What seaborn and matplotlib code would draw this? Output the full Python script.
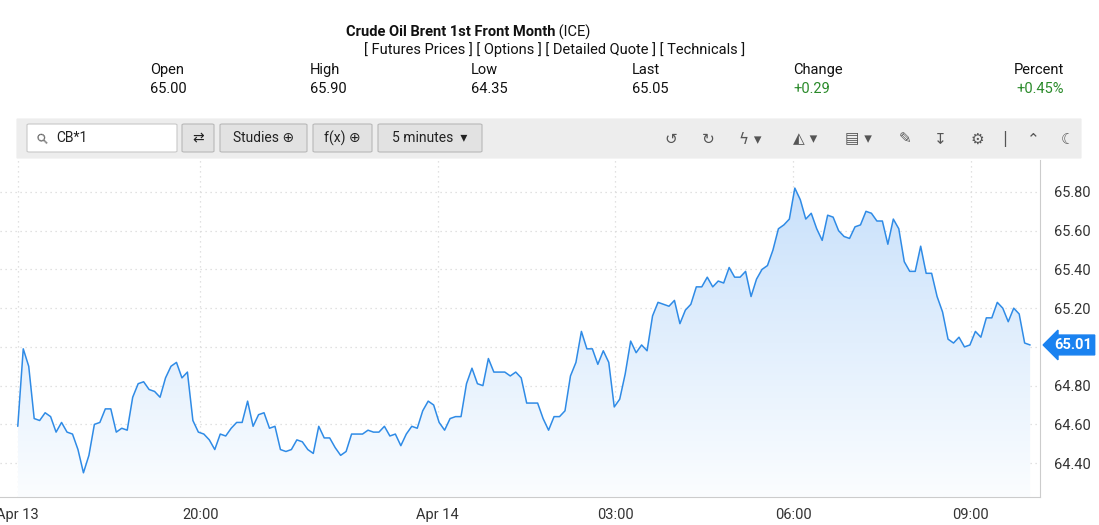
import numpy as np
import pandas as pd
import matplotlib
matplotlib.use("Agg")
import matplotlib.pyplot as plt
import matplotlib.dates as mdates
from matplotlib.patches import FancyBboxPatch, Polygon
import seaborn as sns

# Daten: 5-Minuten-Kurs
prices = [
    64.59, 64.99, 64.90, 64.63, 64.62, 64.66, 64.64, 64.56, 64.61, 64.56,
    64.55, 64.47, 64.35, 64.44, 64.60, 64.61, 64.68, 64.68, 64.56, 64.58,
    64.57, 64.74, 64.81, 64.82, 64.78, 64.77, 64.74, 64.84, 64.90, 64.92,
    64.84, 64.87, 64.62, 64.56, 64.55, 64.52, 64.47, 64.55, 64.54, 64.58,
    64.61, 64.61, 64.72, 64.59, 64.65, 64.66, 64.58, 64.59, 64.47, 64.46,
    64.47, 64.52, 64.51, 64.47, 64.45, 64.59, 64.53, 64.53, 64.48, 64.44,
    64.46, 64.55, 64.55, 64.55, 64.57, 64.56, 64.56, 64.59, 64.54, 64.55,
    64.49, 64.55, 64.59, 64.58, 64.67, 64.72, 64.70, 64.61, 64.57, 64.63,
    64.64, 64.64, 64.81, 64.89, 64.81, 64.80, 64.94, 64.87, 64.87, 64.87,
    64.85, 64.87, 64.84, 64.71, 64.71,
    64.71, 64.63, 64.57, 64.64, 64.64, 64.67, 64.85, 64.92, 65.08, 64.99,
    64.99, 64.91, 64.98, 64.92, 64.69, 64.73, 64.86, 65.03, 64.97, 65.01,
    64.98, 65.16, 65.23, 65.22, 65.21, 65.24, 65.12, 65.19, 65.22, 65.31,
    65.31, 65.36, 65.31, 65.34, 65.33, 65.41, 65.36, 65.36, 65.39, 65.26,
    65.35, 65.40, 65.42, 65.50, 65.61, 65.63, 65.66, 65.82, 65.76, 65.66,
    65.69, 65.61, 65.55, 65.68, 65.67, 65.60, 65.57, 65.56, 65.62, 65.63,
    65.70, 65.69, 65.65, 65.65, 65.53, 65.66, 65.61, 65.44, 65.39, 65.39,
    65.52, 65.38, 65.38, 65.26, 65.18, 65.04, 65.02, 65.05, 65.00, 65.01,
    65.08, 65.05, 65.15, 65.15, 65.23, 65.20, 65.13, 65.20, 65.17, 65.02,
    65.01,
]
t_start, t_end = "2025-04-13 16:55", "2025-04-14 10:00"
times = pd.date_range(t_start, t_end, periods=len(prices))
df = pd.DataFrame({"time": times, "price": prices})

y_ticks = [64.40, 64.60, 64.80, 65.00, 65.20, 65.40, 65.60, 65.80]
x_ticks = ["2025-04-13 16:55", "2025-04-13 20:00", "2025-04-14 00:00",
           "2025-04-14 03:00", "2025-04-14 06:00", "2025-04-14 09:00"]
x_labels = ["Apr 13", "20:00", "Apr 14", "03:00", "06:00", "09:00"]
last_label = "65.01"

quote_names = ["Open", "High", "Low", "Last", "Change", "Percent"]
quote_values = ["65.00", "65.90", "64.35", "65.05", "+0.29", "+0.45%"]

BLUE = "#2f8be6"
W, H = 1099, 525

sns.set_style("white")
plt.rcParams["font.family"] = ["Roboto", "DejaVu Sans"]

fig = plt.figure(figsize=(W / 100, H / 100), dpi=100)

def fx(px):
    return px / W

def fy(py):
    return 1 - py / H

# Kopfzeile
fig.text(fx(555), fy(32), "Crude Oil Brent 1st Front Month", ha="right", va="center",
         fontsize=10.5, fontweight="bold", color="#111")
fig.text(fx(555), fy(32), " (ICE)", ha="left", va="center", fontsize=10.5, color="#111")
fig.text(fx(555), fy(50), "[ Futures Prices ] [ Options ] [ Detailed Quote ] [ Technicals ]",
         ha="center", va="center", fontsize=10.5, color="#111")
q_x = [150, 310, 471, 632, 793, 1064]
for i, (n, v) in enumerate(zip(quote_names, quote_values)):
    ha = "right" if i == len(quote_names) - 1 else "left"
    col = "#2a8a2a" if i >= 4 else "#111"
    fig.text(fx(q_x[i]), fy(70), n, ha=ha, va="center", fontsize=10.5, color="#111")
    fig.text(fx(q_x[i]), fy(89), v, ha=ha, va="center", fontsize=10.5, color=col)

# Werkzeugleiste
def box(x0, y0, x1, y1, fc, ec=None, r=0):
    p = FancyBboxPatch((fx(x0), fy(y1)), fx(x1 - x0), (y1 - y0) / H,
                       boxstyle=f"round,pad=0,rounding_size={r}", transform=fig.transFigure,
                       fc=fc, ec=ec if ec else fc, lw=0.8)
    fig.patches.append(p)

box(17, 119, 1081, 158, "#ededed")
box(27, 124, 177, 152, "white", "#c8c8c8", 0.002)
fig.text(fx(35), fy(138), "⚲", fontsize=10, color="#666", va="center", rotation=45)
fig.text(fx(56), fy(138), "CB*1", fontsize=10, color="#222", va="center")
buttons = [(182, 214, "⇄"), (220, 307, "Studies ⊕"), (313, 372, "f(x) ⊕"), (378, 482, "5 minutes  ▾")]
for x0, x1, lab in buttons:
    box(x0, 124, x1, 152, "#e2e2e2", "#b8b8b8", 0.002)
    fig.text(fx((x0 + x1) / 2), fy(138), lab, fontsize=10, color="#222", ha="center", va="center",
             family=["Roboto", "DejaVu Sans"])
icons = [(671, "↺"), (708, "↻"), (750, "ϟ ▾"), (805, "◭ ▾"), (858, "▤ ▾"), (905, "✎"),
         (940, "↧"), (977, "⚙"), (1005, "|"), (1033, "⌃"), (1068, "☾")]
for x, g in icons:
    fig.text(fx(x), fy(139), g, fontsize=11, color="#555", ha="center", va="center",
             family=["DejaVu Sans"])

# Diagramm
ax = fig.add_axes([0, fy(497), fx(1040), (497 - 160) / H])
sns.lineplot(data=df, x="time", y="price", ax=ax, color=BLUE, lw=1.1, zorder=3)
ax.set_xlim(pd.Timestamp("2025-04-13 16:37"), pd.Timestamp("2025-04-14 10:10"))
ax.set_ylim(64.225, 65.965)

# Verlaufsfüllung
xn = mdates.date2num(df["time"])
grad = np.linspace(0, 1, 256).reshape(-1, 1)
cmap = matplotlib.colors.LinearSegmentedColormap.from_list("g", ["#fbfdff", "#c9e1fb"])
im = ax.imshow(grad, cmap=cmap, aspect="auto", origin="lower",
               extent=[xn[0], xn[-1], 64.225, 65.82], zorder=1)
poly = Polygon(np.column_stack([np.r_[xn, xn[-1], xn[0]],
                                np.r_[df["price"], 64.225, 64.225]]),
               closed=True, transform=ax.transData)
im.set_clip_path(poly)

ax.set_yticks(y_ticks)
ax.yaxis.tick_right()
# 65.00 wird vom Kursschild verdeckt
ax.set_yticklabels(["" if abs(v - 65.0) < 1e-9 else f"{v:.2f}" for v in y_ticks],
                   fontsize=10.5, color="#333")
ax.set_xticks(pd.to_datetime(x_ticks))
ax.set_xticklabels(x_labels, fontsize=10.5, color="#333")
ax.tick_params(length=0, pad=8)
ax.tick_params(axis="y", pad=10)
ax.grid(True, color="#d8d8d8", ls=(0, (1, 3)), lw=0.9)
ax.set_xlabel("")
ax.set_ylabel("")
for s in ["top", "left"]:
    ax.spines[s].set_visible(False)
ax.spines["bottom"].set_color("#cccccc")
ax.spines["right"].set_color("#cccccc")

# Letzter Kurs
ax.annotate(last_label, xy=(1.0, prices[-1]), xycoords=("axes fraction", "data"),
            xytext=(10, 0), textcoords="offset points", ha="left", va="center",
            fontsize=10.5, fontweight="bold", color="white",
            bbox=dict(boxstyle="larrow,pad=0.2", fc="#1a82f0", ec="#1a82f0"),
            annotation_clip=False)

fig.savefig("out.png", dpi=100)
